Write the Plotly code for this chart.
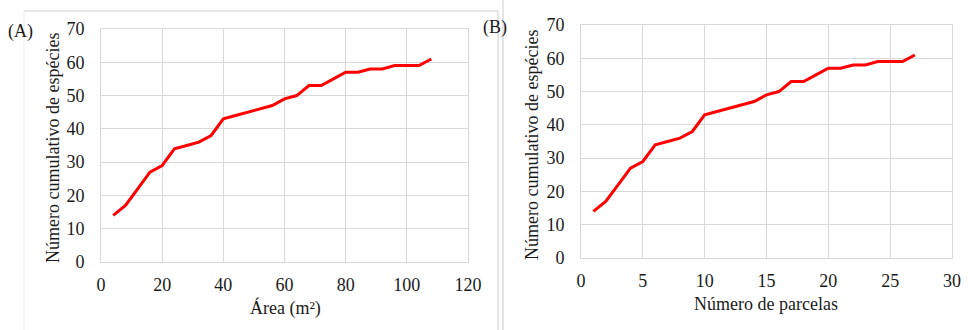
import plotly.graph_objects as go

# Data
area_m2 = [4, 8, 12, 16, 20, 24, 28, 32, 36, 40, 44, 48, 52, 56, 60, 64, 68, 72, 76, 80, 84, 88, 92, 96, 100, 104, 108]
n_parcelas = list(range(1, 28))
cum_species = [14, 17, 22, 27, 29, 34, 35, 36, 38, 43, 44, 45, 46, 47, 49, 50, 53, 53, 55, 57, 57, 58, 58, 59, 59, 59, 61]

xticks_a = [0, 20, 40, 60, 80, 100, 120]
xticks_b = [0, 5, 10, 15, 20, 25, 30]
yticks = [0, 10, 20, 30, 40, 50, 60, 70]

W, H = 970, 330
FONT = "Liberation Serif"
GRID = "#d9d9d9"
TXT = "#1a1a1a"

def px(x):
    return x / W

def py(y):
    return 1 - y / H

fig = go.Figure()
fig.add_trace(go.Scatter(x=area_m2, y=cum_species, mode="lines",
                         line=dict(color="#ff0000", width=3), xaxis="x", yaxis="y",
                         showlegend=False))
fig.add_trace(go.Scatter(x=n_parcelas, y=cum_species, mode="lines",
                         line=dict(color="#ff0000", width=3), xaxis="x2", yaxis="y2",
                         showlegend=False))

axis_common = dict(showgrid=True, gridcolor=GRID, gridwidth=1, showline=True, linecolor=GRID,
                   linewidth=1, mirror=True, zeroline=False, ticks="", automargin=False,
                   tickfont=dict(family=FONT, size=18, color=TXT), fixedrange=True)

fig.update_layout(
    width=W, height=H,
    margin=dict(l=0, r=0, t=0, b=0),
    paper_bgcolor="white", plot_bgcolor="white",
    font=dict(family=FONT, size=18, color=TXT),
    xaxis=dict(domain=[px(101), px(468)], range=[0, 120], tickvals=xticks_a, anchor="y",
               ticklabelstandoff=6, **axis_common),
    yaxis=dict(domain=[py(262), py(29)], range=[0, 70], tickvals=yticks, anchor="x",
               ticklabelstandoff=12, **axis_common),
    xaxis2=dict(domain=[px(581), px(952)], range=[0, 30], tickvals=xticks_b, anchor="y2",
                ticklabelstandoff=6, **axis_common),
    yaxis2=dict(domain=[py(258), py(25)], range=[0, 70], tickvals=yticks, anchor="x2",
                ticklabelstandoff=12, **axis_common),
)

ann = [
    dict(text="Número cumulativo de espécies", x=px(53), y=py(148), textangle=-90),
    dict(text="Área (m²)", x=px(285), y=py(308)),
    dict(text="Número cumulativo de espécies", x=px(532), y=py(145), textangle=-90),
    dict(text="Número de parcelas", x=px(766), y=py(304)),
    dict(text="(A)", x=px(20), y=py(31)),
    dict(text="(B)", x=px(495), y=py(28)),
]
for a in ann:
    fig.add_annotation(xref="paper", yref="paper", showarrow=False,
                       xanchor="center", yanchor="middle",
                       font=dict(family=FONT, size=18, color=TXT), **a)

# panel frame lines
lines = [
    (24, 11, 498, 11, "#cfcfcf"),
    (24, 11, 24, 330, "#eeeeee"),
    (498, 11, 498, 330, "#cccccc"),
    (503, 0, 503, 330, "#cccccc"),
]
for x0, y0, x1, y1, c in lines:
    fig.add_shape(type="line", xref="paper", yref="paper", x0=px(x0), y0=py(y0), x1=px(x1), y1=py(y1),
                  line=dict(color=c, width=1), layer="below")

fig.write_html("out.html", config={"displayModeBar": False},
               post_script="document.body.style.margin='0';document.body.style.overflow='hidden';")
